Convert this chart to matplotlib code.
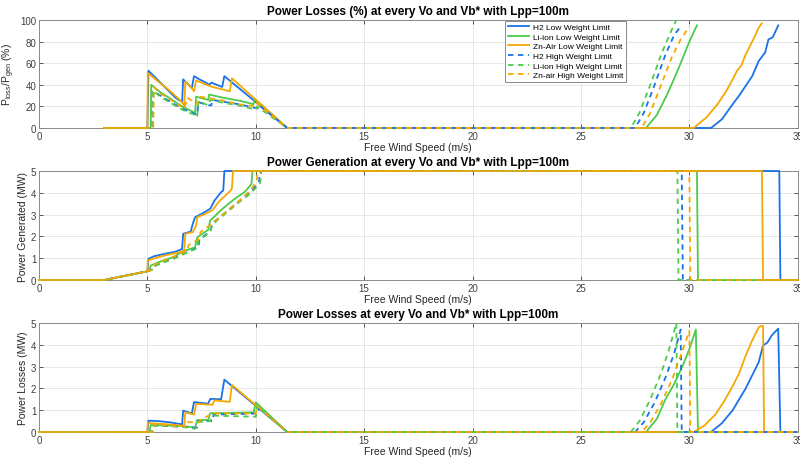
import matplotlib
matplotlib.use("Agg")
import matplotlib.pyplot as plt

plt.rcParams['font.family'] = ['Liberation Sans', 'DejaVu Sans']

labels = ["H2 Low Weight Limit", "Li-ion Low Weight Limit", "Zn-Air Low Weight Limit",
          "H2 High Weight Limit", "Li-ion High Weight Limit", "Zn-air High Weight Limit"]
colors = ['#1a72e8', '#4ccb4c', '#f5a800', '#1a72e8', '#4ccb4c', '#f5a800']
styles = ['-', '-', '-', '--', '--', '--']

# ---- Power losses (%) ----
h2_low_pct_x = [3, 5.0, 5.05, 5.3, 5.6, 6.0, 6.3, 6.6, 6.65, 6.8, 7.05, 7.15, 7.4, 7.7, 7.85, 7.95, 8.2, 8.45, 8.55, 11.45,
                31.0, 31.5, 32.0, 32.3, 32.6, 32.9, 33.2, 33.5, 33.65, 33.85, 34.1]
h2_low_pct_y = [0, 0, 53, 48, 42, 34, 28, 24, 45, 42, 37, 48, 45, 42, 40, 42, 40, 38, 48, 0,
                0, 8, 22, 30, 39, 48, 62, 70, 82, 84, 95]
li_low_pct_x = [3, 5.15, 5.18, 5.6, 6.0, 6.6, 7.2, 7.25, 7.8, 7.85, 8.5, 9.3, 9.9, 9.95, 11.45,
                28.0, 28.5, 29.0, 29.5, 30.0, 30.35]
li_low_pct_y = [0, 0, 40, 33, 28, 20, 14, 29, 26, 31, 28, 25, 22, 27, 0,
                0, 12, 32, 55, 80, 95]
zn_low_pct_x = [3, 5.0, 5.02, 5.5, 6.0, 6.5, 6.7, 6.75, 7.0, 7.15, 7.25, 7.6, 8.0, 8.4, 8.8, 8.9, 11.45,
                30.2, 30.8, 31.3, 31.7, 32.0, 32.2, 32.4, 32.6, 32.8, 33.0, 33.2, 33.35]
zn_low_pct_y = [0, 0, 51, 43, 35, 26, 21, 43, 38, 34, 44, 41, 38, 36, 34, 46, 0,
                0, 10, 22, 34, 45, 53, 58, 68, 76, 84, 93, 97]
h2_high_pct_x = [3, 5.25, 5.28, 5.6, 6.0, 6.6, 7.3, 7.35, 7.8, 7.95, 8.0, 8.6, 9.2, 10.1, 10.15, 11.45,
                 27.5, 27.9, 28.4, 28.9, 29.3, 29.6]
h2_high_pct_y = [0, 0, 34, 30, 25, 18, 12, 24, 21, 21, 26, 24, 22, 18, 21, 0,
                 0, 14, 40, 68, 86, 94]
li_high_pct_x = [3, 5.2, 5.22, 5.6, 6.0, 6.6, 7.2, 7.3, 7.35, 7.8, 7.9, 8.6, 9.2, 10.0, 10.05, 11.45,
                 27.3, 27.7, 28.2, 28.7, 29.1, 29.4]
li_high_pct_y = [0, 0, 35, 29, 24, 17, 12, 10, 25, 21, 26, 23, 21, 17, 20, 0,
                 0, 14, 40, 68, 87, 100]
zn_high_pct_x = [3, 5.27, 5.3, 5.6, 6.0, 6.7, 6.85, 7.3, 7.4, 8.0, 8.6, 9.2, 10.0, 10.05, 11.45,
                 27.8, 28.2, 28.7, 29.2, 29.6, 30.0]
zn_high_pct_y = [0, 0, 38, 32, 27, 18, 28, 22, 29, 27, 25, 22, 20, 23, 0,
                 0, 14, 40, 66, 82, 94]

# ---- Power generated (MW) ----
h2_low_gen_x = [0, 3, 5.0, 5.05, 5.3, 5.8, 6.3, 6.6, 6.65, 7.0, 7.1, 7.2, 7.5, 7.9, 8.1, 8.4, 8.5, 8.55, 34.15, 34.2, 35]
h2_low_gen_y = [0, 0, 0.4, 0.97, 1.09, 1.2, 1.3, 1.42, 2.12, 2.22, 2.6, 2.88, 3.03, 3.27, 3.65, 4.03, 4.1, 5, 5, 0, 0]
li_low_gen_x = [0, 3, 5.0, 5.1, 5.15, 5.6, 6.2, 6.6, 7.2, 7.3, 7.8, 7.9, 8.5, 9.0, 9.5, 9.8, 9.85, 30.35, 30.4, 35]
li_low_gen_y = [0, 0, 0.4, 0.45, 0.66, 0.85, 1.05, 1.3, 1.5, 1.96, 2.3, 2.73, 3.3, 3.7, 4.05, 4.4, 5, 5, 0, 0]
zn_low_gen_x = [0, 3, 5.0, 5.02, 5.5, 6.0, 6.6, 6.7, 6.75, 7.1, 7.25, 7.3, 7.6, 8.0, 8.3, 8.8, 8.9, 8.95, 33.35, 33.4, 35]
zn_low_gen_y = [0, 0, 0.4, 0.9, 1.05, 1.17, 1.3, 1.38, 2.12, 2.2, 2.5, 2.88, 3.0, 3.2, 3.6, 4.06, 4.2, 5, 5, 0, 0]
h2_high_gen_x = [0, 3, 5.0, 5.25, 5.3, 5.8, 6.4, 6.9, 7.35, 7.4, 7.9, 8.0, 8.6, 9.2, 9.8, 10.15, 10.2, 29.65, 29.7, 35]
h2_high_gen_y = [0, 0, 0.4, 0.5, 0.65, 0.85, 1.1, 1.3, 1.5, 1.85, 2.25, 2.6, 3.1, 3.6, 4.1, 4.5, 5, 5, 0, 0]
li_high_gen_x = [0, 3, 5.0, 5.2, 5.25, 5.8, 6.4, 6.9, 7.3, 7.35, 7.9, 8.0, 8.6, 9.2, 9.8, 10.2, 10.25, 29.45, 29.5, 35]
li_high_gen_y = [0, 0, 0.4, 0.45, 0.6, 0.82, 1.05, 1.3, 1.45, 1.8, 2.2, 2.55, 3.05, 3.55, 4.0, 4.45, 5, 5, 0, 0]
zn_high_gen_x = [0, 3, 5.0, 5.27, 5.3, 5.8, 6.4, 6.85, 6.9, 7.4, 7.45, 8.0, 8.6, 9.2, 9.8, 10.05, 10.1, 30.0, 30.05, 35]
zn_high_gen_y = [0, 0, 0.4, 0.5, 0.7, 0.9, 1.15, 1.35, 1.6, 1.9, 2.2, 2.6, 3.1, 3.6, 4.15, 4.6, 5, 5, 0, 0]

# ---- Power losses (MW) ----
h2_low_loss_x = [0, 5.0, 5.05, 5.5, 6.0, 6.6, 6.65, 7.05, 7.15, 7.8, 7.9, 8.4, 8.55, 11.45,
                 31.0, 31.5, 32.0, 32.3, 32.6, 32.9, 33.2, 33.4, 33.6, 33.8, 34.1, 34.2, 35]
h2_low_loss_y = [0, 0, 0.52, 0.5, 0.45, 0.35, 0.98, 0.85, 1.37, 1.3, 1.52, 1.5, 2.4, 0,
                 0, 0.4, 1.0, 1.5, 2.0, 2.6, 3.2, 3.97, 4.1, 4.43, 4.74, 0, 0]
li_low_loss_x = [0, 5.1, 5.15, 6.5, 7.2, 7.3, 7.8, 7.9, 9.9, 10.0, 11.45,
                 28.0, 28.5, 28.9, 29.3, 29.7, 30.0, 30.3, 30.4, 35]
li_low_loss_y = [0, 0, 0.32, 0.28, 0.2, 0.55, 0.55, 0.86, 0.9, 1.36, 0,
                 0, 0.6, 1.5, 2.2, 3.05, 3.8, 4.7, 0, 0]
zn_low_loss_x = [0, 5.0, 5.02, 6.0, 6.7, 6.75, 7.15, 7.25, 8.0, 8.1, 8.8, 8.9, 11.45,
                 30.2, 30.7, 31.2, 31.6, 32.0, 32.3, 32.6, 32.9, 33.2, 33.3, 33.4, 33.45, 35]
zn_low_loss_y = [0, 0, 0.41, 0.35, 0.28, 0.9, 0.8, 1.29, 1.25, 1.45, 1.38, 2.16, 0,
                 0, 0.3, 0.8, 1.4, 2.1, 2.7, 3.5, 4.2, 4.8, 4.86, 4.86, 0, 0]
h2_high_loss_x = [0, 5.25, 5.3, 6.5, 7.3, 7.35, 8.0, 8.05, 10.1, 10.15, 11.45,
                  27.5, 27.9, 28.4, 28.9, 29.3, 29.6, 29.65, 35]
h2_high_loss_y = [0, 0, 0.3, 0.25, 0.2, 0.5, 0.5, 0.8, 0.85, 1.1, 0,
                  0, 0.45, 1.35, 2.5, 3.6, 4.7, 0, 0]
li_high_loss_x = [0, 5.2, 5.25, 6.5, 7.2, 7.3, 7.9, 8.0, 10.0, 10.05, 11.45,
                  27.3, 27.7, 28.2, 28.7, 29.1, 29.4, 29.45, 35]
li_high_loss_y = [0, 0, 0.3, 0.25, 0.15, 0.45, 0.5, 0.75, 0.7, 1.2, 0,
                  0, 0.5, 1.5, 2.7, 3.9, 5.0, 0, 0]
zn_high_loss_x = [0, 5.27, 5.3, 6.8, 6.85, 7.4, 7.45, 8.0, 10.0, 10.05, 11.45,
                  27.8, 28.2, 28.7, 29.2, 29.6, 30.0, 30.05, 35]
zn_high_loss_y = [0, 0, 0.35, 0.25, 0.45, 0.45, 0.55, 0.85, 0.85, 1.2, 0,
                  0, 0.45, 1.3, 2.4, 3.5, 4.63, 0, 0]

panels = [
    dict(title="Power Losses (%) at every Vo and Vb* with Lpp=100m",
         ylabel=r"P$_{\mathregular{loss}}$/P$_{\mathregular{gen}}$ (%)", ylim=(0, 100), yticks=range(0, 101, 20),
         series=[(h2_low_pct_x, h2_low_pct_y), (li_low_pct_x, li_low_pct_y), (zn_low_pct_x, zn_low_pct_y),
                 (h2_high_pct_x, h2_high_pct_y), (li_high_pct_x, li_high_pct_y), (zn_high_pct_x, zn_high_pct_y)]),
    dict(title="Power Generation at every Vo and Vb* with Lpp=100m",
         ylabel="Power Generated (MW)", ylim=(0, 5), yticks=range(0, 6),
         series=[(h2_low_gen_x, h2_low_gen_y), (li_low_gen_x, li_low_gen_y), (zn_low_gen_x, zn_low_gen_y),
                 (h2_high_gen_x, h2_high_gen_y), (li_high_gen_x, li_high_gen_y), (zn_high_gen_x, zn_high_gen_y)]),
    dict(title="Power Losses at every Vo and Vb* with Lpp=100m",
         ylabel="Power Losses (MW)", ylim=(0, 5), yticks=range(0, 6),
         series=[(h2_low_loss_x, h2_low_loss_y), (li_low_loss_x, li_low_loss_y), (zn_low_loss_x, zn_low_loss_y),
                 (h2_high_loss_x, h2_high_loss_y), (li_high_loss_x, li_high_loss_y), (zn_high_loss_x, zn_high_loss_y)]),
]

fig = plt.figure(figsize=(8, 4.6), dpi=100)
positions = [[0.04875, 0.7196, 0.9484, 0.2348],
             [0.04875, 0.3891, 0.9484, 0.2370],
             [0.04875, 0.0587, 0.9484, 0.2370]]
label_x = [-0.029, -0.0145, -0.0145]

for i, p in enumerate(panels):
    ax = fig.add_axes(positions[i])
    for (x, y), c, ls, lab in zip(p["series"], colors, styles, labels):
        # data stays inside the limits, so lines on the edges are drawn in full
        ax.plot(x, y, color=c, linestyle=ls, linewidth=1.3, label=lab,
                dashes=(3, 2.5) if ls == '--' else (None, None), clip_on=False, zorder=3)
    ax.set_xlim(0, 35)
    ax.set_ylim(*p["ylim"])
    ax.set_xticks(range(0, 36, 5))
    ax.set_yticks(list(p["yticks"]))
    ax.grid(True, color='#e3e3e3', linewidth=0.6)
    ax.set_axisbelow(True)
    ax.tick_params(direction='in', length=3, width=0.6, labelsize=7, colors='#404040',
                   top=True, right=True, pad=2)
    for s in ax.spines.values():
        s.set_color('#8a8a8a')
        s.set_linewidth(0.7)
        s.set_zorder(2)
    ax.set_title(p["title"], fontsize=8.5, fontweight='bold', pad=4)
    ax.set_xlabel("Free Wind Speed (m/s)", fontsize=7.5, color='#262626', labelpad=1)
    ax.set_ylabel(p["ylabel"], fontsize=7.5, color='#262626')
    ax.yaxis.set_label_coords(label_x[i], 0.5)
    if i == 0:
        leg = ax.legend(loc='upper right', bbox_to_anchor=(0.774, 0.995), fontsize=6,
                        frameon=True, fancybox=False, framealpha=1, edgecolor='#8a8a8a',
                        handlelength=2.6, labelspacing=0.22, borderpad=0.3, handletextpad=0.5,
                        borderaxespad=0)
        leg.get_frame().set_linewidth(0.7)
        leg.set_zorder(5)

fig.savefig("out.png", dpi=100)
